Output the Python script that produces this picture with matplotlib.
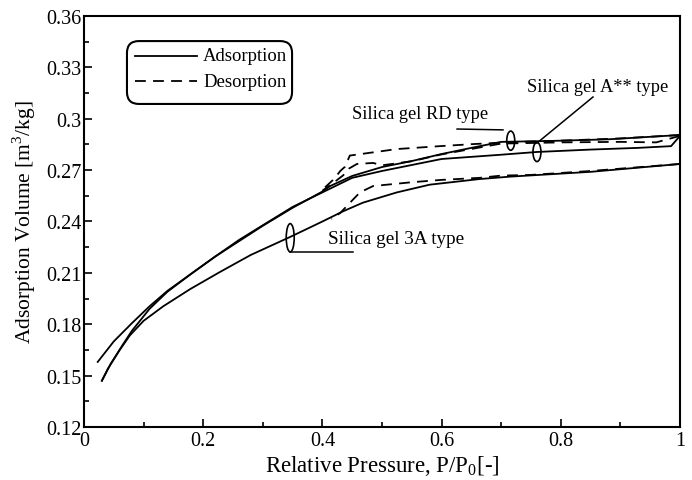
import matplotlib
matplotlib.use("Agg")
import matplotlib.pyplot as plt
from matplotlib.patches import Ellipse, FancyBboxPatch
from matplotlib.lines import Line2D
from matplotlib.ticker import MultipleLocator

plt.rcParams['font.family'] = ['Liberation Serif', 'DejaVu Serif']
plt.rcParams['mathtext.fontset'] = 'custom'
plt.rcParams['mathtext.rm'] = 'Liberation Serif'

# ---- data ----
rd_ads_x = [0.03, 0.045, 0.065, 0.08, 0.11, 0.14, 0.18, 0.22, 0.26, 0.30, 0.35, 0.40, 0.413, 0.45, 0.50, 0.55, 0.60, 0.65, 0.70, 0.78, 0.88, 1.00]
rd_ads_y = [0.147, 0.157, 0.168, 0.176, 0.189, 0.199, 0.2095, 0.2195, 0.2285, 0.2375, 0.248, 0.2575, 0.2607, 0.2666, 0.2718, 0.2753, 0.2794, 0.283, 0.2865, 0.2870, 0.2880, 0.2905]
rd_des_x = [1.00, 0.90, 0.80, 0.72, 0.653, 0.597, 0.525, 0.446, 0.438, 0.43, 0.42, 0.40]
rd_des_y = [0.2905, 0.2885, 0.2872, 0.2864, 0.2852, 0.284, 0.2823, 0.2785, 0.272, 0.2695, 0.265, 0.2585]

aa_ads_x = [0.023, 0.05, 0.08, 0.11, 0.14, 0.18, 0.22, 0.26, 0.30, 0.35, 0.40, 0.45, 0.50, 0.55, 0.60, 0.70, 0.76, 0.85, 0.93, 0.985, 1.00]
aa_ads_y = [0.158, 0.170, 0.1805, 0.1905, 0.1995, 0.2095, 0.2195, 0.2292, 0.2378, 0.2485, 0.257, 0.2655, 0.2695, 0.273, 0.2765, 0.279, 0.2806, 0.282, 0.283, 0.284, 0.290]
aa_des_x = [1.00, 0.96, 0.90, 0.80, 0.70, 0.60, 0.55, 0.50, 0.485, 0.458, 0.445, 0.435, 0.42, 0.40]
aa_des_y = [0.290, 0.2862, 0.2865, 0.2862, 0.2855, 0.2792, 0.2752, 0.2728, 0.2742, 0.2736, 0.271, 0.267, 0.263, 0.258]

a3_ads_x = [0.03, 0.04, 0.06, 0.077, 0.10, 0.133, 0.178, 0.228, 0.28, 0.346, 0.40, 0.435, 0.468, 0.525, 0.58, 0.664, 0.715, 0.85, 1.00]
a3_ads_y = [0.147, 0.154, 0.165, 0.1735, 0.182, 0.1905, 0.2005, 0.2105, 0.2205, 0.231, 0.240, 0.246, 0.251, 0.257, 0.2615, 0.2648, 0.2662, 0.269, 0.2736]
a3_des_x = [1.00, 0.85, 0.75, 0.70, 0.664, 0.60, 0.552, 0.485, 0.463, 0.445, 0.43, 0.415]
a3_des_y = [0.2736, 0.2695, 0.2672, 0.2668, 0.2655, 0.2643, 0.263, 0.2607, 0.257, 0.2505, 0.245, 0.2415]

x_ticks = [0, 0.2, 0.4, 0.6, 0.8, 1]
x_tick_labels = ['0', '0.2', '0.4', '0.6', '0.8', '1']
y_ticks = [0.12, 0.15, 0.18, 0.21, 0.24, 0.27, 0.3, 0.33, 0.36]
y_tick_labels = ['0.12', '0.15', '0.18', '0.21', '0.24', '0.27', '0.3', '0.33', '0.36']
legend_labels = ['Adsorption', 'Desorption']

# ---- figure ----
fig = plt.figure(figsize=(6.92, 4.81), dpi=100)
ax = fig.add_axes([84/692, 1-428/481, 596/692, 411/481])

lw = 1.3
dash = (0, (6, 4))
ax.plot(rd_ads_x, rd_ads_y, color='black', lw=lw)
ax.plot(rd_des_x, rd_des_y, color='black', lw=lw, ls=dash)
ax.plot(aa_ads_x, aa_ads_y, color='black', lw=lw)
ax.plot(aa_des_x, aa_des_y, color='black', lw=lw, ls=dash)
ax.plot(a3_ads_x, a3_ads_y, color='black', lw=lw)
ax.plot(a3_des_x, a3_des_y, color='black', lw=lw, ls=dash)

ax.set_xlim(0, 1)
ax.set_ylim(0.12, 0.36)
ax.set_xticks(x_ticks)
ax.set_xticklabels(x_tick_labels)
ax.set_yticks(y_ticks)
ax.set_yticklabels(y_tick_labels)
ax.xaxis.set_minor_locator(MultipleLocator(0.1))
ax.yaxis.set_minor_locator(MultipleLocator(0.015))
ax.tick_params(which='both', direction='in', top=False, right=False, labelsize=14.5, width=1.2)
ax.tick_params(which='major', length=6)
ax.tick_params(which='minor', length=3.5)
ax.tick_params(axis='x', pad=3)
ax.tick_params(axis='y', pad=2)
for s in ax.spines.values():
    s.set_linewidth(1.5)

ax.set_xlabel('Relative Pressure, P/P$_0$[-]', fontsize=16.5, labelpad=2)
ax.set_ylabel('Adsorption Volume [m$^3$/kg]', fontsize=15.5, labelpad=6)

# annotations
ax.add_patch(Ellipse((0.346, 0.2305), 0.0134, 0.0165, fill=False, lw=1.2, color='black'))
ax.plot([0.346, 0.451], [0.2222, 0.2222], color='black', lw=1.1)
ax.text(0.409, 0.2300, 'Silica gel 3A type', fontsize=13.8, ha='left', va='center')

ax.add_patch(Ellipse((0.716, 0.2872), 0.0134, 0.0112, fill=False, lw=1.2, color='black'))
ax.plot([0.626, 0.703], [0.2940, 0.2935], color='black', lw=1.1)
ax.text(0.678, 0.3028, 'Silica gel RD type', fontsize=13.2, ha='right', va='center')

ax.add_patch(Ellipse((0.760, 0.2806), 0.0134, 0.0112, fill=False, lw=1.2, color='black'))
ax.plot([0.760, 0.854], [0.2858, 0.3127], color='black', lw=1.1)
ax.text(0.743, 0.3191, 'Silica gel A** type', fontsize=13.2, ha='left', va='center')

# manual legend (axes coordinates)
box = FancyBboxPatch((0.0721, 0.786), 0.277, 0.153, transform=ax.transAxes,
                     boxstyle='round,pad=0,rounding_size=0.02', mutation_aspect=1.45,
                     fill=True, facecolor='white', edgecolor='black', lw=1.5, zorder=5)
ax.add_patch(box)
for yy, style, lab in [(0.9027, '-', legend_labels[0]), (0.8418, dash, legend_labels[1])]:
    ax.add_line(Line2D([0.0856, 0.1896], [yy, yy], transform=ax.transAxes, color='black',
                       lw=lw, ls=style, zorder=6))
    ax.text(0.1997, yy, lab, transform=ax.transAxes, fontsize=13.5, ha='left', va='center', zorder=6)

fig.savefig('out.png', dpi=100)
